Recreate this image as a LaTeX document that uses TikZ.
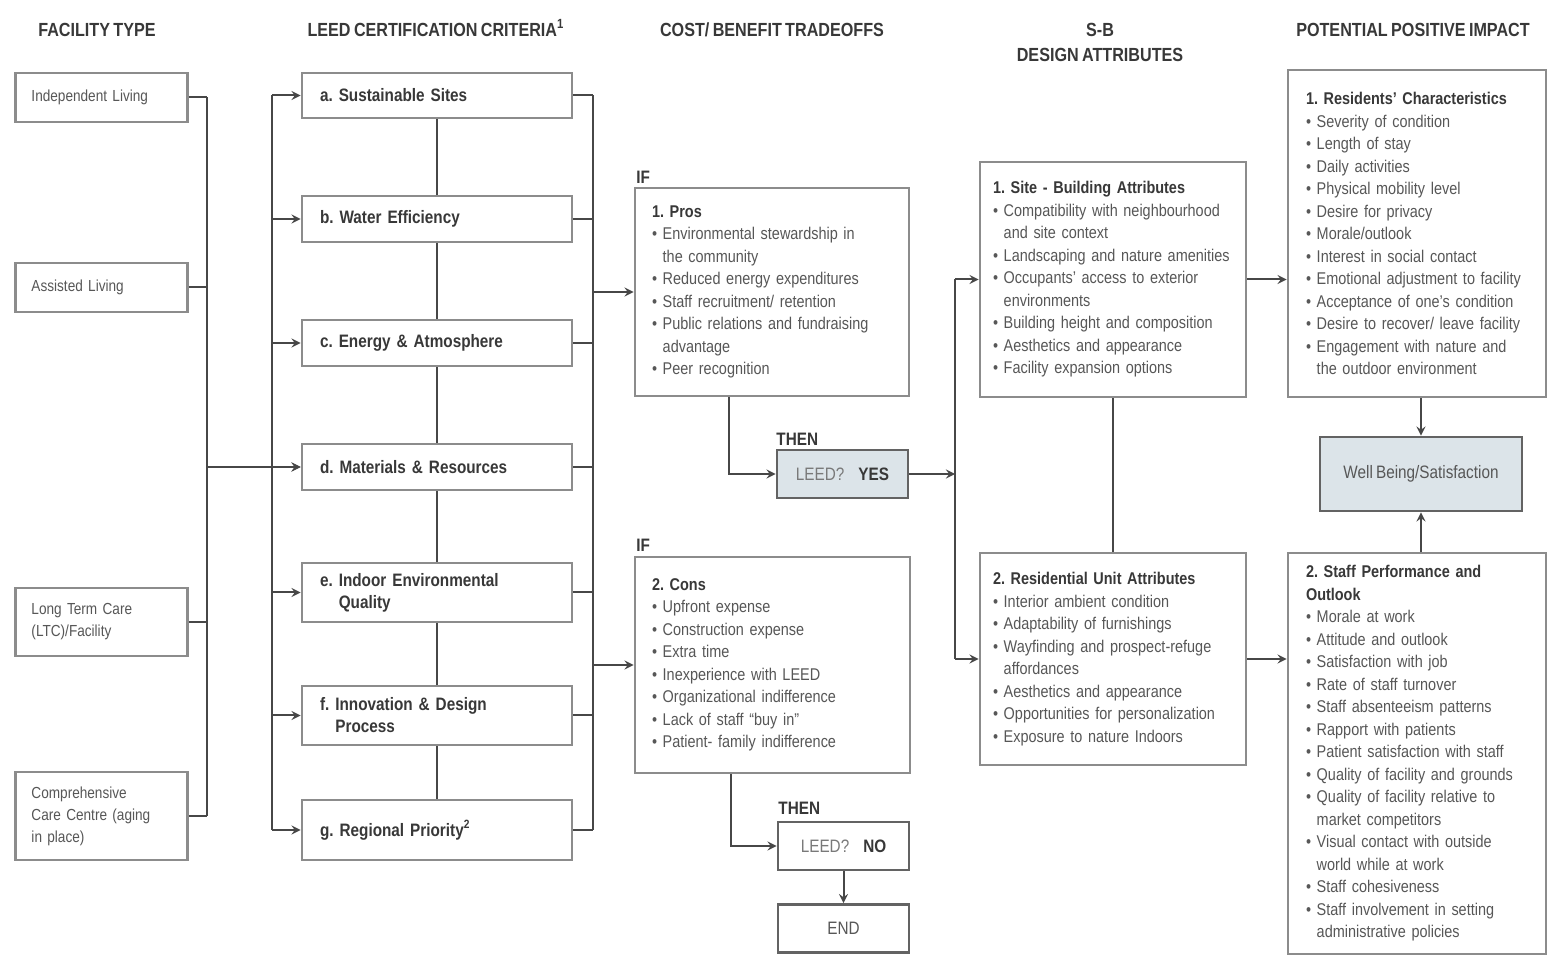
\documentclass[tikz,border=0pt]{standalone}
\usepackage{fontspec}
\setmainfont{Liberation Sans}[FakeStretch=0.85, WordSpace=0.75]
\usetikzlibrary{calc}
\frenchspacing

\definecolor{boxline}{HTML}{8C8C8C}
\definecolor{wire}{HTML}{474747}
\definecolor{ink}{HTML}{383838}
\definecolor{softink}{HTML}{575757}
\definecolor{shade}{HTML}{DCE4E9}

\newcommand{\bodyfont}{\fontsize{8.5}{11.25}\selectfont}
\newcommand{\itm}{\textbullet\ }
\newcommand{\cont}{\hphantom{\textbullet\ }}
\newcommand{\boxhead}[1]{{\color{ink}\bfseries #1}}

\tikzstyle{heading} = [font=\fontsize{9.5}{12.5}\selectfont\bfseries, text=ink, align=center, inner sep=0pt]
\tikzstyle{facility} = [draw=boxline, line width=1.4pt, fill=white, text width=70pt, inner xsep=8pt, align=left, text=softink, font=\fontsize{8}{11}\selectfont]
\tikzstyle{criterion} = [draw=boxline, line width=1.4pt, fill=white, text width=117pt, inner xsep=9pt, align=left, text=ink, font=\fontsize{9}{11}\selectfont\bfseries]
\tikzstyle{textbox} = [draw=boxline, line width=1.4pt, fill=white, inner ysep=3pt, align=left, text=softink, font=\bodyfont]
\tikzstyle{decision} = [draw=wire!85, line width=1.4pt, fill=white, minimum width=65.5pt, minimum height=24pt, font=\fontsize{9}{11}\selectfont, text=ink]
\tikzstyle{cue} = [font=\fontsize{9}{11}\selectfont\bfseries, text=ink, anchor=south west, inner sep=0pt]
\tikzstyle{link} = [draw=wire, line width=1pt]
\tikzstyle{edge} = [draw=wire, line width=1pt, ->, >=stealth]

\begin{document}
\begin{tikzpicture}[x=0.5pt, y=-0.5pt]
    \useasboundingbox (0,0) rectangle (1548,956);

    % column headings
    \node[heading] at (97,30) {FACILITY TYPE};
    \node[heading] at (436,28) {LEED CERTIFICATION CRITERIA\textsuperscript{1}};
    \node[heading] at (772,30) {COST/ BENEFIT TRADEOFFS};
    \node[heading] at (1100,42) {S-B\\DESIGN ATTRIBUTES};
    \node[heading] at (1413,30) {POTENTIAL POSITIVE IMPACT};

    % facility types
    \foreach \pos/\name/\hgt/\txt in {{(101.5,97.5)/fi/24.5/{Independent Living}},
        {(101.5,287.5)/fa/24.5/{Assisted Living}},
        {(101.5,622)/fl/34/{Long Term Care\\(LTC)/Facility}},
        {(101.5,816)/fc/44/{Comprehensive\\Care Centre (aging\\in place)}}}
    \node[facility, minimum height=\hgt pt] (\name) at \pos {\txt};

    % LEED criteria
    \foreach \y/\name/\hgt/\txt in {{95.5/ca/22.5/{a. Sustainable Sites}},
        {219/cb/23/{b. Water Efficiency}},
        {343/cc/23/{c. Energy \& Atmosphere}},
        {467/cd/23/{d. Materials \& Resources}},
        {592.5/ce/29.5/{e. Indoor Environmental\\\hphantom{e. }Quality}},
        {715.5/cf/29.5/{f. Innovation \& Design\\\hphantom{f. }Process}},
        {830/cg/30/{g. Regional Priority\textsuperscript{2}}}}
    \node[criterion, minimum height=\hgt pt] (\name) at (437,\y) {\txt};

    % tradeoffs
    \node[textbox, text width=120pt, inner xsep=8.5pt, minimum height=104pt] (pros) at (772,292)
        {\boxhead{1. Pros}\\
         \itm Environmental stewardship in\\\cont the community\\
         \itm Reduced energy expenditures\\
         \itm Staff recruitment/ retention\\
         \itm Public relations and  fundraising\\\cont advantage\\
         \itm Peer recognition};
    \node[textbox, text width=120.5pt, inner xsep=8.5pt, minimum height=108pt] (cons) at (772.5,665)
        {\boxhead{2. Cons}\\
         \itm Upfront expense\\
         \itm Construction expense\\
         \itm Extra time\\
         \itm Inexperience with LEED\\
         \itm Organizational indifference\\
         \itm Lack of staff ``buy in''\\
         \itm Patient- family indifference};
    \node[cue] (ifa) at (636,184) {IF};
    \node[cue] (ifb) at (636,552) {IF};
    \node[cue] (thena) at (776,446) {THEN};
    \node[cue] (thenb) at (778,815) {THEN};

    \node[decision, fill=shade] (yes) at (842.5,474) {{\color{softink!80}LEED?}\hspace{7pt}\textbf{YES}};
    \node[decision] (no) at (843.5,846) {{\color{softink!80}LEED?}\hspace{7pt}\textbf{NO}};
    \node[decision] (finish) at (843.5,928.5) {{\color{softink}END}};

    % design attributes
    \node[textbox, text width=120pt, inner xsep=6.5pt, minimum height=117.5pt] (site) at (1113,279.5)
        {\boxhead{1. Site - Building Attributes}\\
         \itm Compatibility with neighbourhood\\\cont and site context\\
         \itm Landscaping and nature amenities\\
         \itm Occupants' access to exterior\\\cont environments\\
         \itm Building height and composition\\
         \itm Aesthetics and appearance\\
         \itm Facility expansion options};
    \node[textbox, text width=120pt, inner xsep=6.5pt, minimum height=106pt] (res) at (1113,659)
        {\boxhead{2. Residential Unit Attributes}\\
         \itm Interior ambient condition\\
         \itm Adaptability of furnishings\\
         \itm Wayfinding and prospect-refuge\\\cont affordances\\
         \itm Aesthetics and appearance\\
         \itm Opportunities for personalization\\
         \itm Exposure to nature Indoors};

    % impacts
    \node[textbox, text width=111pt, inner xsep=9pt, minimum height=163.5pt] (rchar) at (1417,233.5)
        {\boxhead{1. Residents' Characteristics}\\
         \itm Severity of condition\\
         \itm Length of stay\\
         \itm Daily activities\\
         \itm Physical mobility level\\
         \itm Desire for privacy\\
         \itm Morale/outlook\\
         \itm Interest in social contact\\
         \itm Emotional adjustment to facility\\
         \itm Acceptance of one's condition\\
         \itm Desire to recover/ leave facility\\
         \itm Engagement with nature and\\\cont the outdoor environment};
    \node[textbox, text width=111pt, inner xsep=9pt, minimum height=200.5pt] (staff) at (1417,753.5)
        {\boxhead{2. Staff Performance and}\\
         \boxhead{Outlook}\\
         \itm Morale at work\\
         \itm Attitude and outlook\\
         \itm Satisfaction with job\\
         \itm Rate of staff turnover\\
         \itm Staff absenteeism patterns\\
         \itm Rapport with patients\\
         \itm Patient satisfaction with staff\\
         \itm Quality of facility and grounds\\
         \itm Quality of facility relative to\\\cont market competitors\\
         \itm Visual contact with outside\\\cont world while at work\\
         \itm Staff cohesiveness\\
         \itm Staff involvement in setting\\\cont administrative policies};
    \node[decision, fill=shade, minimum width=101pt, minimum height=37pt, text=softink] (wb) at (1421,474) {Well Being/Satisfaction};

    % bus points
    \coordinate (fjoin) at (207,467);
    \coordinate (lbus) at (272,467);
    \coordinate (rbus) at (593,292);
    \coordinate (dbus) at (955,474);

    % facility types into criteria
    \foreach \f in {fi,fa,fl,fc}
    \path[link] (\f.east) -- (\f.east -| fjoin);
    \path[link] (fi.east -| fjoin) -- (fc.east -| fjoin);
    \path[edge] (fjoin) -- (cd.west);

    \path[link] (ca.west -| lbus) -- (cg.west -| lbus);
    \foreach \c in {ca,cb,cc,cd,ce,cf,cg}
    \path[edge] (\c.west -| lbus) -- (\c.west);
    \foreach \c in {ca,cb,cc,cd,ce,cf,cg}
    \path[link] (\c.east) -- (\c.east -| rbus);
    \path[link] (ca.east -| rbus) -- (cg.east -| rbus);
    \foreach \a/\b in {ca/cb, cb/cc, cc/cd, cd/ce, ce/cf, cf/cg}
    \path[link] (\a.south) -- (\b.north);

    % criteria into tradeoffs
    \path[edge] (pros.west -| rbus) -- (pros.west);
    \path[edge] (cons.west -| rbus) -- (cons.west);
    \path[edge] ($(pros.south)+(-43,0)$) |- (yes.west);
    \path[edge] ($(cons.south)+(-41.5,0)$) |- (no.west);
    \path[edge] (no.south) -- (finish.north);

    % yes branch into attributes
    \path[edge] (yes.east) -- (dbus);
    \path[link] (dbus |- site.west) -- (dbus |- res.west);
    \path[edge] (dbus |- site.west) -- (site.west);
    \path[edge] (dbus |- res.west) -- (res.west);
    \path[link] (site.south) -- (res.north);

    % attributes into impacts
    \path[edge] (site.east) -- (site.east -| rchar.west);
    \path[edge] (res.east) -- (res.east -| staff.west);
    \path[edge] (wb.north |- rchar.south) -- (wb.north);
    \path[edge] (wb.south |- staff.north) -- (wb.south);

\end{tikzpicture}
\end{document}
